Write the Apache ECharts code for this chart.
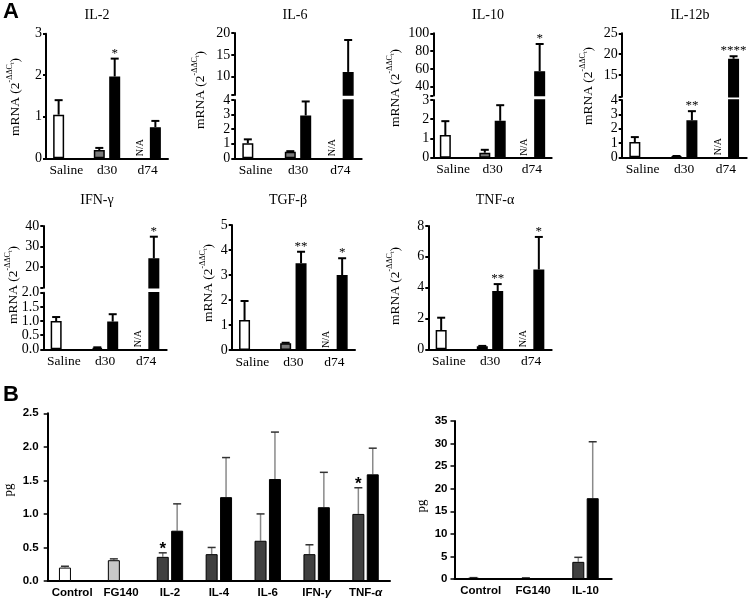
<!DOCTYPE html>
<html>
<head>
<meta charset="utf-8">
<script src="https://cdn.jsdelivr.net/npm/echarts@6/dist/echarts.min.js"></script>
<style>
  html, body { margin: 0; padding: 0; background: #fff; }
  #main { width: 749px; height: 604px; }
</style>
</head>
<body>
<div id="main"></div>
<script>
// ---- Panel A: mRNA (2^-ddCt) ----
const groups = ['Saline', 'd30', 'd74'];
const cytokinesA = ['IL-2', 'IL-6', 'IL-10', 'IL-12b', 'IFN-γ', 'TGF-β', 'TNF-α'];
// first bar in each group: Saline (white), d30 (grey), d74 (N/A)
const firstMean = [
  [1.05, 0.20, null],
  [1.03, 0.45, null],
  [1.18, 0.26, null],
  [1.06, 0.07, null],
  [1.00, 0.05, null],
  [1.20, 0.27, null],
  [1.25, 0.20, null]
];
const firstErr = [
  [0.35, 0.05, null],
  [0.27, 0.04, null],
  [0.72, 0.15, null],
  [0.35, 0.02, null],
  [0.14, 0.02, null],
  [0.76, 0.02, null],
  [0.80, 0.02, null]
];
// second bar in each group (black)
const secondMean = [
  [null, 1.97, 0.75],
  [null, 2.94, 11.1],
  [null, 1.92, 57.5],
  [null, 2.58, 18.9],
  [null, 0.98, 24.3],
  [null, 3.47, 3.00],
  [null, 3.78, 5.18]
];
const secondErr = [
  [null, 0.43, 0.15],
  [null, 0.96, 7.3],
  [null, 0.81, 30.5],
  [null, 0.64, 0.6],
  [null, 0.26, 10.5],
  [null, 0.46, 0.67],
  [null, 0.45, 2.11]
];
const secondSig = [
  ['', '*', ''],
  ['', '', ''],
  ['', '', '*'],
  ['', '**', '****'],
  ['', '', '*'],
  ['', '**', '*'],
  ['', '**', '*']
];
// y scales: lower segment [min, max, interval], upper segment of broken axes [min, max]
const lowerScale = [[0, 3, 1], [0, 4, 1], [0, 3, 1], [0, 4, 1], [0, 2, 0.5], [0, 5, 1], [0, 8, 2]];
const upperScale = [null, [5.8, 20], [30, 100], [9.8, 25], [10, 40], null, null];
const upperTickLabels = [null, [10, 15, 20], [40, 60, 80, 100], [15, 20, 25], [20, 30, 40], null, null];

// ---- Panel B: protein (pg) ----
const catsB1 = ['Control', 'FG140', 'IL-2', 'IL-4', 'IL-6', 'IFN-γ', 'TNF-α'];
const b1First = [0.20, 0.31, 0.36, 0.40, 0.60, 0.40, 1.00];
const b1FirstErr = [0.02, 0.02, 0.06, 0.10, 0.40, 0.14, 0.39];
const b1Second = [null, null, 0.75, 1.25, 1.52, 1.10, 1.59];
const b1SecondErr = [null, null, 0.40, 0.59, 0.70, 0.52, 0.39];
const b1Sig = ['', '', '*', '', '', '', '*'];
const catsB2 = ['Control', 'FG140', 'IL-10'];
const b2First = [0.25, 0.20, 3.8];
const b2FirstErr = [0.05, 0.05, 1.0];
const b2Second = [null, null, 17.9];
const b2SecondErr = [null, null, 12.5];

const serif = '"Liberation Serif", "Times New Roman", serif';
const narrow = '"Liberation Sans Narrow", "Arial Narrow", "Liberation Sans", sans-serif';

const grid = [], xAxis = [], yAxis = [], series = [], graphic = [];

function errRender(p, seg, rows, isBottom) {
  const off = p.barW * (1 + p.gap) / 2;
  return function (params, api) {
    const r = rows[params.dataIndex];
    const x0 = api.coord([r.ci, seg.min])[0] + (r.slot === 0 ? -off : off);
    if (r.mean == null) {
      if (!isBottom || !r.na) return;
      const yb = api.coord([r.ci, seg.min])[1];
      return {
        type: 'text', x: x0, y: yb - 2, rotation: Math.PI / 2,
        style: { text: 'N/A', font: '10px ' + serif, fill: '#000', align: 'left', verticalAlign: 'middle' }
      };
    }
    const top = r.mean + r.err;
    if (r.mean > seg.max || top < seg.min || top > seg.max) return;
    const yTop = api.coord([r.ci, top])[1];
    const yBar = api.coord([r.ci, Math.max(r.mean, seg.min)])[1];
    const children = [
      { type: 'line', shape: { x1: x0, y1: yBar, x2: x0, y2: yTop }, style: { stroke: p.errColor, lineWidth: p.errW } },
      { type: 'line', shape: { x1: x0 - p.capW / 2, y1: yTop, x2: x0 + p.capW / 2, y2: yTop }, style: { stroke: p.capColor, lineWidth: p.errW } }
    ];
    if (r.sig) {
      children.push({
        type: 'text', x: x0, y: yTop - p.sigGap,
        style: { text: r.sig, font: p.sigFont, fill: '#000', align: 'center', verticalAlign: 'bottom' }
      });
    }
    return { type: 'group', children: children };
  };
}

function addSegment(p, seg, isBottom) {
  const gi = grid.length;
  grid.push({ left: p.left, top: seg.top, width: p.right - p.left, height: seg.bottom - seg.top, outerBoundsMode: 'none' });
  xAxis.push({
    type: 'category', gridIndex: gi, data: p.cats, show: isBottom,
    axisLine: { show: true, onZero: false, lineStyle: { color: '#000', width: 2 } },
    axisTick: { show: false },
    axisLabel: Object.assign({ interval: 0, color: '#000' }, p.xLabel)
  });
  const yLabel = Object.assign({ color: '#000', margin: p.yMargin,
    formatter: v => (seg.interval && seg.interval < 1) ? v.toFixed(1) : String(v) }, p.yLabel);
  const yTick = { show: true, inside: false, length: p.tickLen, lineStyle: { color: '#000', width: p.tickW } };
  if (seg.labels) {
    yLabel.customValues = seg.labels;
    yTick.customValues = [seg.min].concat(seg.labels);
  }
  yAxis.push({
    type: 'value', gridIndex: gi, min: seg.min, max: seg.max, interval: seg.interval,
    axisLine: { show: true, lineStyle: { color: '#000', width: 2 } },
    axisTick: yTick, axisLabel: yLabel, splitLine: { show: false }
  });
  const keep = v => (v == null || (!isBottom && v <= seg.min)) ? '-' : v;
  series.push({
    type: 'bar', xAxisIndex: gi, yAxisIndex: gi, barWidth: p.barW, barGap: (p.gap * 100) + '%', clip: true,
    data: p.first.map((v, ci) => keep(v) === '-' ? '-' :
      { value: v, itemStyle: { color: p.firstColors[ci], borderColor: '#000', borderWidth: p.borderW } })
  });
  series.push({
    type: 'bar', xAxisIndex: gi, yAxisIndex: gi, barWidth: p.barW, clip: true,
    itemStyle: { color: '#000', borderColor: '#000', borderWidth: p.borderW },
    data: p.second.map(keep)
  });
  const rows = [];
  p.cats.forEach((c, ci) => {
    rows.push({ ci: ci, slot: 0, mean: p.first[ci], err: p.firstErr[ci], sig: p.firstSig ? p.firstSig[ci] : '', na: p.naMark && p.first[ci] == null });
    rows.push({ ci: ci, slot: 1, mean: p.second[ci], err: p.secondErr[ci], sig: p.secondSig ? p.secondSig[ci] : '', na: false });
  });
  series.push({
    type: 'custom', xAxisIndex: gi, yAxisIndex: gi, silent: true,
    renderItem: errRender(p, seg, rows, isBottom),
    data: rows.map(r => [r.ci, r.mean == null ? seg.min : r.mean])
  });
}

// layout of the seven panels in A (pixel positions)
const layoutA = [
  { left: 46, right: 168, segs: [{ top: 33.7, bottom: 158.3 }], title: [97, 15], ylab: [14, 97] },
  { left: 234.3, right: 361.7, segs: [{ top: 100, bottom: 158.3 }, { top: 33, bottom: 95.1 }], title: [295, 15], ylab: [199, 90] },
  { left: 433.3, right: 551.7, segs: [{ top: 100, bottom: 157.7 }, { top: 33.3, bottom: 95.6 }], title: [488, 15], ylab: [394, 88] },
  { left: 621.7, right: 746.7, segs: [{ top: 100, bottom: 157.3 }, { top: 33.3, bottom: 96.7 }], title: [690, 15], ylab: [587, 86] },
  { left: 43.3, right: 166.7, segs: [{ top: 292.7, bottom: 349.3 }, { top: 226, bottom: 287.7 }], title: [97, 200], ylab: [12, 285] },
  { left: 231.7, right: 355, segs: [{ top: 225, bottom: 350 }], title: [288, 200], ylab: [207, 283] },
  { left: 428.3, right: 551.7, segs: [{ top: 226, bottom: 349.3 }], title: [495, 200], ylab: [394, 286] }
];

cytokinesA.forEach((name, i) => {
  const L = layoutA[i];
  const p = {
    left: L.left, right: L.right, cats: groups,
    first: firstMean[i], firstErr: firstErr[i], second: secondMean[i], secondErr: secondErr[i], secondSig: secondSig[i],
    firstColors: ['#fff', '#7a7a7a', '#fff'], naMark: true,
    barW: 11, gap: 0.4, borderW: 1.5, errColor: '#000', capColor: '#000', errW: 2, capW: 8,
    sigFont: '13px ' + serif, sigGap: -1, tickLen: 3, tickW: 2, yMargin: 4,
    xLabel: { fontFamily: serif, fontSize: 13.5, margin: 5 },
    yLabel: { fontFamily: serif, fontSize: 14 }
  };
  const lo = lowerScale[i];
  addSegment(p, Object.assign({ min: lo[0], max: lo[1], interval: lo[2] }, L.segs[0]), true);
  if (upperScale[i]) {
    const up = upperScale[i];
    addSegment(p, Object.assign({ min: up[0], max: up[1], labels: upperTickLabels[i] }, L.segs[1]), false);
  }
  graphic.push({ type: 'text', x: L.title[0], y: L.title[1],
    style: { text: name, font: '14px ' + serif, fill: '#000', align: 'center', verticalAlign: 'middle' } });
  graphic.push({ type: 'text', x: L.ylab[0], y: L.ylab[1], rotation: Math.PI / 2,
    style: {
      text: '{a|mRNA (2}{s|-ΔΔC}{t|t}{a|)}', align: 'center', verticalAlign: 'middle', fill: '#000',
      rich: {
        a: { fontFamily: serif, fontSize: 13.5, lineHeight: 16, verticalAlign: 'bottom' },
        s: { fontFamily: serif, fontSize: 8, lineHeight: 16, verticalAlign: 'top' },
        t: { fontFamily: serif, fontSize: 6, lineHeight: 16, verticalAlign: 'top', padding: [3, 0, 0, 0] }
      }
    } });
});

// ---- Panel B ----
const labB = {
  fontFamily: narrow, fontSize: 11.5, fontWeight: 'bold', margin: 6,
  formatter: v => v.replace('γ', '{i|γ}').replace('α', '{i|α}'),
  rich: { i: { fontFamily: narrow, fontSize: 11.5, fontWeight: 'bold', fontStyle: 'italic' } }
};
const baseB = {
  firstColors: ['#fff', '#c8c8c8', '#404040', '#404040', '#404040', '#404040', '#404040'], naMark: false,
  barW: 12, gap: 0.2, borderW: 1, errColor: '#8a8a8a', capColor: '#333', errW: 1.5, capW: 8,
  sigFont: 'bold 17px ' + narrow, sigGap: -5, tickLen: 4, tickW: 1.5, yMargin: 9,
  xLabel: labB, yLabel: { fontFamily: narrow, fontSize: 11.5, fontWeight: 'bold' }
};
addSegment(Object.assign({}, baseB, {
  left: 47.7, right: 390, cats: catsB1,
  first: b1First, firstErr: b1FirstErr, firstSig: b1Sig, second: b1Second, secondErr: b1SecondErr
}), { top: 413.3, bottom: 581, min: 0, max: 2.5, interval: 0.5 }, true);
addSegment(Object.assign({}, baseB, {
  left: 454.5, right: 611.7, cats: catsB2, yMargin: 7,
  first: b2First, firstErr: b2FirstErr, second: b2Second, secondErr: b2SecondErr
}), { top: 421, bottom: 579, min: 0, max: 35, interval: 5 }, true);

graphic.push({ type: 'text', x: 9, y: 490, rotation: Math.PI / 2,
  style: { text: 'pg', font: '13px ' + serif, fill: '#000', align: 'center', verticalAlign: 'middle' } });
graphic.push({ type: 'text', x: 422, y: 506, rotation: Math.PI / 2,
  style: { text: 'pg', font: '13px ' + serif, fill: '#000', align: 'center', verticalAlign: 'middle' } });
graphic.push({ type: 'text', x: 3, y: 1,
  style: { text: 'A', font: 'bold 22px "Liberation Sans", Arial, sans-serif', fill: '#000' } });
graphic.push({ type: 'text', x: 3, y: 384,
  style: { text: 'B', font: 'bold 22px "Liberation Sans", Arial, sans-serif', fill: '#000' } });

const chart = echarts.init(document.getElementById('main'), null, { renderer: 'canvas' });
chart.setOption({
  animation: false,
  backgroundColor: '#fff',
  grid: grid, xAxis: xAxis, yAxis: yAxis, series: series,
  graphic: { elements: graphic }
});
</script>
</body>
</html>
